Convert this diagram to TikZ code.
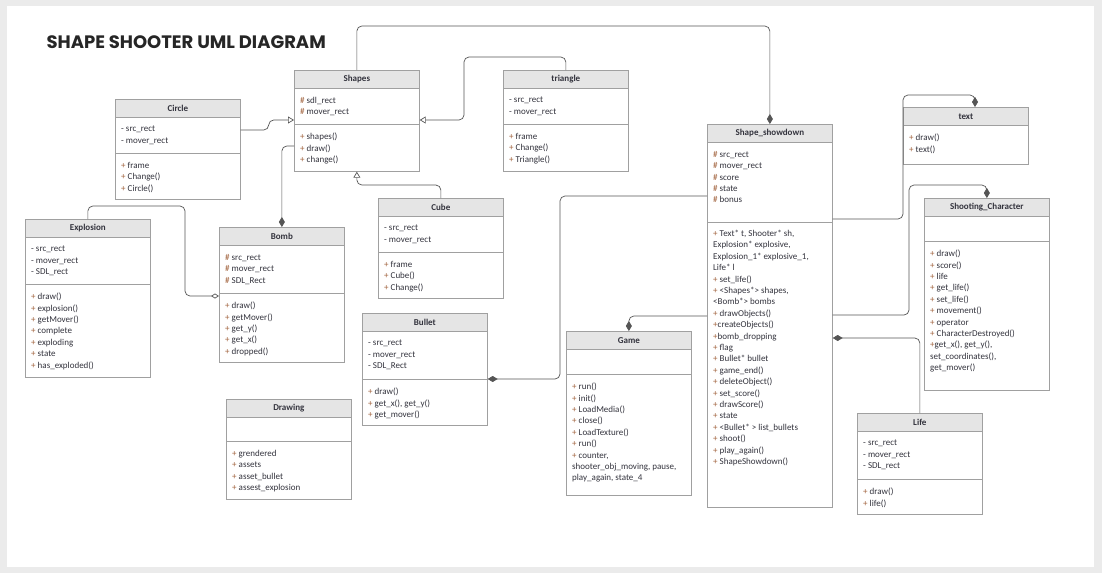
\documentclass[tikz,border=0pt]{standalone}
\usepackage{fontspec}
\setmainfont{Carlito}
\newfontfamily\titlefont{Poppins}
\usepackage{xcolor}
\usepackage{tikz}
\usetikzlibrary{arrows.meta}

\definecolor{bggray}{HTML}{EBEBEB}
\definecolor{linegray}{HTML}{A0A0A0}
\definecolor{headgray}{HTML}{E5E5E5}
\definecolor{wiregray}{HTML}{555555}
\definecolor{inkc}{HTML}{33333D}
\definecolor{markc}{HTML}{A0603A}
\newcommand{\pub}{\textcolor{markc}{+}}
\newcommand{\prot}{\textcolor{markc}{\#}}

\begin{document}
\begin{tikzpicture}[x=1pt, y=-1pt,
    classbox/.style={draw=linegray, fill=white, line width=0.7pt, inner sep=0, minimum width=125, anchor=north west},
    classhead/.style={classbox, fill=headgray, minimum height=18, text=inkc, font=\bfseries\fontsize{9}{11}\selectfont},
    members/.style={inner sep=0, anchor=north west, yshift=-2, align=left, text=inkc, font=\fontsize{9}{11.4}\selectfont, execute at begin node=\strut},
    divider/.style={draw=linegray, line width=0.7pt},
    wire/.style={draw=wiregray, line width=0.7pt, rounded corners=5},
    inherit/.style={wire, -{Triangle[open, length=6pt, width=7pt]}},
    compose/.style={wire, -{Diamond[length=10pt, width=6pt]}},
    aggregate/.style={wire, -{Diamond[open, length=8pt, width=5pt]}}]
    \useasboundingbox (0,0) rectangle (1102,573);
    % Page
    \fill[bggray] (0,0) rectangle (1102,573);
    \fill[white] (7,6) rectangle (1094,567);
    \node[anchor=base west, text=black!85, font=\titlefont\bfseries\fontsize{18}{20}\selectfont] (title) at (43,48) {SHAPE SHOOTER UML DIAGRAM};

    % Shapes
    \node[classbox, minimum height=101] (shapes) at (294,70) {};
    \node[classhead] (shapesHead) at (294,70) {Shapes};
    \draw[divider] (shapes.west |- 0,124) -- (shapes.east |- 0,124);
    \node[members] (shapesAttr) at (300,95) {\prot{} sdl\_rect\\\prot{} mover\_rect};
    \node[members] (shapesOps) at (300,131) {\pub{} shapes()\\\pub{} draw()\\\pub{} change()};

    % Circle
    \node[classbox, minimum height=100] (circle) at (115,99) {};
    \node[classhead] (circleHead) at (115,99) {Circle};
    \draw[divider] (circle.west |- 0,153) -- (circle.east |- 0,153);
    \node[members] (circleAttr) at (121,124) {- src\_rect\\- mover\_rect};
    \node[members] (circleOps) at (121,160) {\pub{} frame\\\pub{} Change()\\\pub{} Circle()};

    % triangle
    \node[classbox, minimum height=101] (triangle) at (503,70) {};
    \node[classhead] (triangleHead) at (503,70) {triangle};
    \draw[divider] (triangle.west |- 0,124) -- (triangle.east |- 0,124);
    \node[members] (triangleAttr) at (509,95) {- src\_rect\\- mover\_rect};
    \node[members] (triangleOps) at (509,131) {\pub{} frame\\\pub{} Change()\\\pub{} Triangle()};

    % Cube
    \node[classbox, minimum height=100] (cube) at (378,198) {};
    \node[classhead] (cubeHead) at (378,198) {Cube};
    \draw[divider] (cube.west |- 0,252) -- (cube.east |- 0,252);
    \node[members] (cubeAttr) at (384,223) {- src\_rect\\- mover\_rect};
    \node[members] (cubeOps) at (384,259) {\pub{} frame\\\pub{} Cube()\\\pub{} Change()};

    % Explosion
    \node[classbox, minimum height=158] (explosion) at (25,219) {};
    \node[classhead] (explosionHead) at (25,219) {Explosion};
    \draw[divider] (explosion.west |- 0,284) -- (explosion.east |- 0,284);
    \node[members] (explosionAttr) at (31,244) {- src\_rect\\- mover\_rect\\- SDL\_rect};
    \node[members] (explosionOps) at (31,291) {\pub{} draw()\\\pub{} explosion()\\\pub{} getMover()\\\pub{} complete\\\pub{} exploding\\\pub{} state\\\pub{} has\_exploded()};

    % Bomb
    \node[classbox, minimum height=135] (bomb) at (219,227) {};
    \node[classhead] (bombHead) at (219,227) {Bomb};
    \draw[divider] (bomb.west |- 0,293) -- (bomb.east |- 0,293);
    \node[members] (bombAttr) at (225,252) {\prot{} src\_rect\\\prot{} mover\_rect\\\prot{} SDL\_Rect};
    \node[members] (bombOps) at (225,300) {\pub{} draw()\\\pub{} getMover()\\\pub{} get\_y()\\\pub{} get\_x()\\\pub{} dropped()};

    % Bullet
    \node[classbox, minimum height=112] (bullet) at (362,313) {};
    \node[classhead] (bulletHead) at (362,313) {Bullet};
    \draw[divider] (bullet.west |- 0,379) -- (bullet.east |- 0,379);
    \node[members] (bulletAttr) at (368,338) {- src\_rect\\- mover\_rect\\- SDL\_Rect};
    \node[members] (bulletOps) at (368,386) {\pub{} draw()\\\pub{} get\_x(), get\_y()\\\pub{} get\_mover()};

    % Drawing
    \node[classbox, minimum height=100] (drawing) at (226,399) {};
    \node[classhead] (drawingHead) at (226,399) {Drawing};
    \draw[divider] (drawing.west |- 0,441) -- (drawing.east |- 0,441);
    \node[members] (drawingOps) at (232,448) {\pub{} grendered\\\pub{} assets\\\pub{} asset\_bullet\\\pub{} assest\_explosion};

    % Game
    \node[classbox, minimum height=164] (game) at (566,331) {};
    \node[classhead] (gameHead) at (566,331) {Game};
    \draw[divider] (game.west |- 0,374) -- (game.east |- 0,374);
    \node[members] (gameOps) at (572,381) {\pub{} run()\\\pub{} init()\\\pub{} LoadMedia()\\\pub{} close()\\\pub{} LoadTexture()\\\pub{} run()\\\pub{} counter,\\shooter\_obj\_moving, pause,\\play\_again, state\_4};

    % Shape_showdown
    \node[classbox, minimum height=383] (showdown) at (707,124) {};
    \node[classhead] (showdownHead) at (707,124) {Shape\_showdown};
    \draw[divider] (showdown.west |- 0,222) -- (showdown.east |- 0,222);
    \node[members] (showdownAttr) at (713,149) {\prot{} src\_rect\\\prot{} mover\_rect\\\prot{} score\\\prot{} state\\\prot{} bonus};
    \node[members] (showdownOps) at (713,228) {\pub{} Text* t, Shooter* sh,\\Explosion* explosive,\\Explosion\_1* explosive\_1,\\Life* l\\\pub{} set\_life()\\\pub{} <Shapes*> shapes,\\<Bomb*> bombs\\\pub{} drawObjects()\\\pub{}createObjects()\\\pub{}bomb\_dropping\\\pub{} flag\\\pub{} Bullet* bullet\\\pub{} game\_end()\\\pub{} deleteObject()\\\pub{} set\_score()\\\pub{} drawScore()\\\pub{} state\\\pub{} <Bullet* > list\_bullets\\\pub{} shoot()\\\pub{} play\_again()\\\pub{} ShapeShowdown()};

    % text
    \node[classbox, minimum height=57] (text) at (903,107) {};
    \node[classhead] (textHead) at (903,107) {text};
    \node[members] (textOps) at (909,132) {\pub{} draw()\\\pub{} text()};

    % Shooting_Character
    \node[classbox, minimum height=192] (shooting) at (924,198) {};
    \node[classhead] (shootingHead) at (924,198) {Shooting\_Character};
    \draw[divider] (shooting.west |- 0,241) -- (shooting.east |- 0,241);
    \node[members] (shootingOps) at (930,248) {\pub{} draw()\\\pub{} score()\\\pub{} life\\\pub{} get\_life()\\\pub{} set\_life()\\\pub{} movement()\\\pub{} operator\\\pub{} CharacterDestroyed()\\\pub{}get\_x(), get\_y(),\\set\_coordinates(),\\get\_mover()};

    % Life
    \node[classbox, minimum height=101] (life) at (857,413) {};
    \node[classhead] (lifeHead) at (857,413) {Life};
    \draw[divider] (life.west |- 0,479) -- (life.east |- 0,479);
    \node[members] (lifeAttr) at (863,438) {- src\_rect\\- mover\_rect\\- SDL\_rect};
    \node[members] (lifeOps) at (863,486) {\pub{} draw()\\\pub{} life()};

    % Inheritance
    \draw[inherit] (circle.east |- 0,130) -- ++(28,0) |- (shapes.west |- 0,120);
    \draw[inherit] (triangle.north) |- (464,57) |- (shapes.east |- 0,120);
    \draw[inherit] (cube.north) |- (shapes.south |- 0,185) -- (shapes.south);

    % Composition and aggregation
    \draw[compose] (shapes.north) |- (showdown.north |- 0,26) -- (showdown.north);
    \draw[compose] (shapes.west |- 0,146) -| (bomb.north);
    \draw[aggregate] (explosion.north) |- (185,206) |- (bomb.west |- 0,296);
    \draw[compose] (showdown.west |- 0,196) -| (560,300) |- (bullet.east |- 0,379);
    \draw[compose] (showdown.west |- 0,316) -| (game.north);
    \draw[compose] (showdown.east |- 0,219) -| (903,95) -| (text.north -| 975,0);
    \draw[compose] (showdown.east |- 0,315) -| (909,185) -| (shooting.north);
    \draw[compose] (life.north) |- (showdown.east |- 0,338);
\end{tikzpicture}
\end{document}
